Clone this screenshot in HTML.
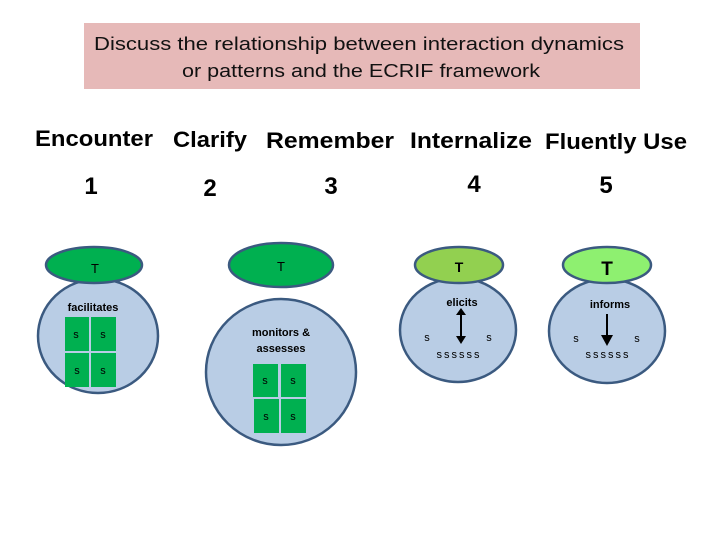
<!DOCTYPE html>
<html><head><style>body{margin:0;background:#fff}svg{display:block}</style></head><body>
<svg width="720" height="540" viewBox="0 0 720 540" xmlns="http://www.w3.org/2000/svg" font-family="Liberation Sans, sans-serif">
<rect x="84" y="23" width="556" height="66" fill="#e6b9b8"/>
<text x="359" y="50" font-size="18" text-anchor="middle" textLength="530" lengthAdjust="spacingAndGlyphs" fill="#111">Discuss the relationship between interaction dynamics</text>
<text x="361" y="77" font-size="18" text-anchor="middle" textLength="358" lengthAdjust="spacingAndGlyphs" fill="#111">or patterns and the ECRIF framework</text>
<g font-weight="bold" font-size="22" fill="#000">
<text x="35" y="146" textLength="118" lengthAdjust="spacingAndGlyphs">Encounter</text>
<text x="173" y="147" textLength="74" lengthAdjust="spacingAndGlyphs">Clarify</text>
<text x="266" y="148" textLength="128" lengthAdjust="spacingAndGlyphs">Remember</text>
<text x="410" y="148" textLength="122" lengthAdjust="spacingAndGlyphs">Internalize</text>
<text x="545" y="149" textLength="142" lengthAdjust="spacingAndGlyphs">Fluently Use</text>
<text x="91" y="194" text-anchor="middle" font-size="24">1</text>
<text x="210" y="196" text-anchor="middle" font-size="24">2</text>
<text x="331" y="194" text-anchor="middle" font-size="24">3</text>
<text x="474" y="192" text-anchor="middle" font-size="24">4</text>
<text x="606" y="193" text-anchor="middle" font-size="24">5</text>
</g>
<g stroke="#3b5a80" stroke-width="2.5">
<ellipse cx="98" cy="336" rx="60" ry="57" fill="#b9cde5"/>
<ellipse cx="94" cy="265" rx="48" ry="18" fill="#00b050"/>
<ellipse cx="281" cy="372" rx="75" ry="73" fill="#b9cde5"/>
<ellipse cx="281" cy="265" rx="52" ry="22" fill="#00b050"/>
<ellipse cx="458" cy="330" rx="58" ry="52" fill="#b9cde5"/>
<ellipse cx="459" cy="265" rx="44" ry="18" fill="#92d050"/>
<ellipse cx="607" cy="331" rx="58" ry="52" fill="#b9cde5"/>
<ellipse cx="607" cy="265" rx="44" ry="18" fill="#8ef070"/>
</g>
<g fill="#00b050">
<rect x="65" y="317" width="24" height="34"/><rect x="91" y="317" width="25" height="34"/>
<rect x="65" y="353" width="24" height="34"/><rect x="91" y="353" width="25" height="34"/>
<rect x="253" y="364" width="25" height="33"/><rect x="281" y="364" width="25" height="33"/>
<rect x="254" y="399" width="25" height="34"/><rect x="281" y="399" width="25" height="34"/>
</g>
<g fill="#000" font-size="11" text-anchor="middle">
<text x="95" y="273" font-size="13">T</text>
<text x="281" y="271" font-size="13">T</text>
<text x="459" y="272" font-size="14" font-weight="bold">T</text>
<text x="607" y="275" font-size="19" font-weight="bold">T</text>
<text x="93" y="311" font-weight="bold">facilitates</text>
<text x="281" y="336" font-weight="bold">monitors &amp;</text>
<text x="281" y="352" font-weight="bold">assesses</text>
<text x="462" y="306" font-weight="bold">elicits</text>
<text x="610" y="308" font-weight="bold">informs</text>
<text x="76" y="338">s</text><text x="103" y="338">s</text>
<text x="77" y="374">s</text><text x="103" y="374">s</text>
<text x="265" y="384">s</text><text x="293" y="384">s</text>
<text x="266" y="420">s</text><text x="293" y="420">s</text>
<text x="427" y="341">s</text><text x="489" y="341">s</text>
<text x="459" y="358" letter-spacing="2">ssssss</text>
<text x="576" y="342">s</text><text x="637" y="342">s</text>
<text x="608" y="358" letter-spacing="2">ssssss</text>
</g>
<g stroke="#000" stroke-width="2">
<line x1="461" y1="313" x2="461" y2="338"/>
<line x1="607" y1="314" x2="607" y2="338"/>
</g>
<polygon points="456,315 466,315 461,308" fill="#000"/>
<polygon points="456,336 466,336 461,344" fill="#000"/>
<polygon points="601,335 613,335 607,346" fill="#000"/>
</svg>
</body></html>
